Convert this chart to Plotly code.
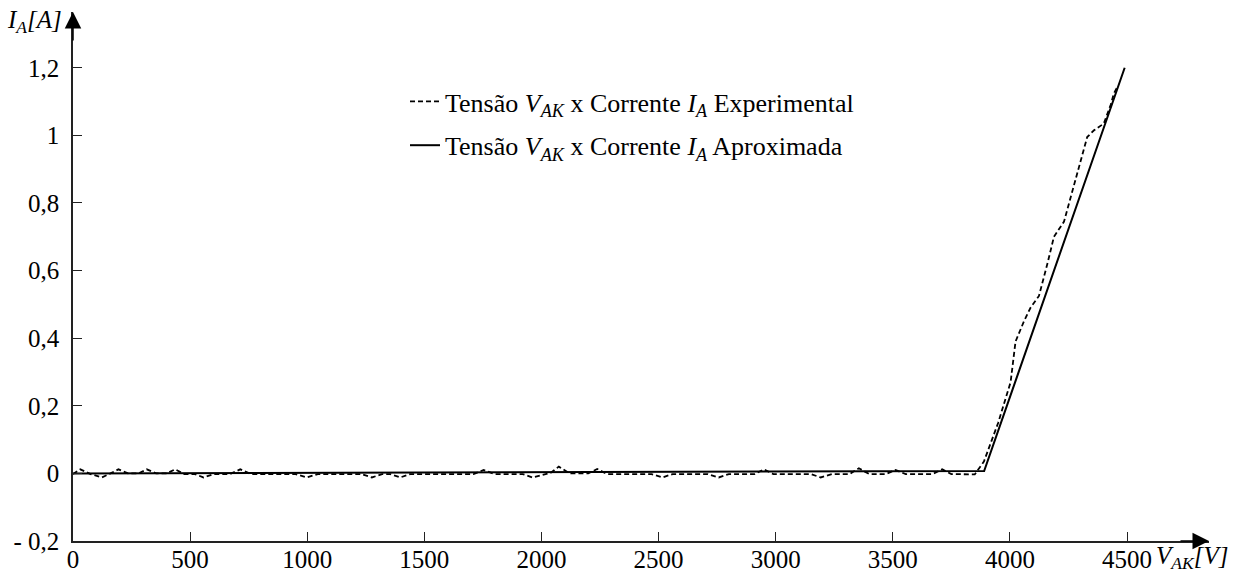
import plotly.graph_objects as go

# ---- data ----
exp_v = [0, 31, 75, 123, 160, 194, 235, 280, 315, 355, 400, 436, 475, 520, 557, 600, 670,
         714, 760, 950, 998, 1045, 1230, 1276, 1320, 1355, 1397, 1440, 1710, 1753, 1800,
         1920, 1961, 2010, 2040, 2074, 2120, 2200, 2238, 2280, 2470, 2516, 2560, 2710, 2757,
         2800, 2910, 2950, 2990, 3150, 3192, 3240, 3315, 3355, 3400, 3470, 3512, 3555, 3670,
         3711, 3750, 3850, 3889, 3950, 4003, 4024, 4060, 4088, 4124, 4160, 4188, 4231, 4280,
         4330, 4359, 4401, 4430, 4444, 4460]
exp_i = [-0.002, 0.012, -0.002, -0.012, 0.0, 0.012, 0.0, 0.0, 0.012, 0.0, 0.0, 0.012, -0.002,
         -0.002, -0.012, -0.002, -0.002, 0.012, -0.002, -0.002, -0.012, -0.002, -0.002, -0.012,
         -0.002, -0.002, -0.012, -0.002, -0.002, 0.01, -0.002, -0.002, -0.012, -0.002, 0.002,
         0.02, 0.0, 0.0, 0.013, -0.002, -0.002, -0.012, -0.002, -0.002, -0.012, -0.002, -0.002,
         0.012, -0.002, -0.002, -0.012, -0.002, -0.002, 0.015, -0.002, -0.002, 0.01, -0.002,
         -0.002, 0.012, -0.002, -0.003, 0.035, 0.15, 0.27, 0.39, 0.45, 0.49, 0.525, 0.62, 0.70,
         0.745, 0.87, 0.995, 1.015, 1.035, 1.09, 1.124, 1.145]

apx_v = [0, 3890, 4490]
apx_i = [0.0, 0.007, 1.2]

x_ticks = [0, 500, 1000, 1500, 2000, 2500, 3000, 3500, 4000, 4500]
x_ticktext = ["0", "500", "1000", "1500", "2000", "2500", "3000", "3500", "4000", "4500"]
y_ticks = [-0.2, 0, 0.2, 0.4, 0.6, 0.8, 1.0, 1.2]
y_ticktext = ["- 0,2", "0", "0,2", "0,4", "0,6", "0,8", "1", "1,2"]

FONT = "Liberation Serif"
AX = "#222222"
L, R, T, B = 73, 34, 12, 34
W, H = 1243, 575


def px_to_paper(px, py):
    return (px - L) / (W - L - R), (H - B - py) / (H - T - B)


fig = go.Figure()
fig.add_trace(go.Scatter(
    x=exp_v, y=exp_i, mode="lines",
    name="Tensão <i>V</i><sub><i>AK</i></sub> x Corrente <i>I</i><sub><i>A</i></sub> Experimental",
    line=dict(color="black", width=1.8, dash="5px,3px"), legendgroup="a"))
fig.add_trace(go.Scatter(
    x=apx_v, y=apx_i, mode="lines",
    name="Tensão <i>V</i><sub><i>AK</i></sub> x Corrente <i>I</i><sub><i>A</i></sub> Aproximada",
    line=dict(color="black", width=2), legendgroup="b"))

lx, ly = px_to_paper(405, 78)
fig.update_layout(
    width=W, height=H,
    margin=dict(l=L, r=R, t=T, b=B, autoexpand=False),
    paper_bgcolor="white", plot_bgcolor="white",
    font=dict(family=FONT, size=25, color="black"),
    showlegend=True,
    legend=dict(x=lx, y=ly, xanchor="left", yanchor="top",
                bgcolor="rgba(0,0,0,0)", borderwidth=0,
                font=dict(family=FONT, size=26, color="black"),
                tracegroupgap=7, itemclick=False, itemdoubleclick=False),
)
fig.update_xaxes(range=[0, 4850], showgrid=False, zeroline=False, automargin=False,
                 showline=True, linecolor=AX, linewidth=1.5,
                 ticks="inside", ticklen=9, tickwidth=1.2, tickcolor=AX,
                 tickvals=x_ticks, ticktext=x_ticktext, ticklabelstandoff=-5,
                 tickfont=dict(family=FONT, size=25, color="black"))
fig.update_yaxes(range=[-0.2, 1.365], showgrid=False, zeroline=False, automargin=False,
                 showline=True, linecolor=AX, linewidth=1.5,
                 ticks="inside", ticklen=9, tickwidth=1.2, tickcolor=AX,
                 tickvals=y_ticks, ticktext=y_ticktext, ticklabelstandoff=7,
                 tickfont=dict(family=FONT, size=25, color="black"))

# axis arrows
fig.add_annotation(x=0, y=1, xref="paper", yref="paper", ax=0, ay=30,
                   showarrow=True, arrowhead=2, arrowsize=2.2, arrowwidth=1.5,
                   arrowcolor="black", text="")
fig.add_annotation(x=1, y=0, xref="paper", yref="paper", ax=-30, ay=0,
                   showarrow=True, arrowhead=2, arrowsize=2.2, arrowwidth=1.5,
                   arrowcolor="black", text="")

# axis titles
tx, ty = px_to_paper(34, 22)
fig.add_annotation(x=tx, y=ty, xref="paper", yref="paper", showarrow=False,
                   xanchor="center", yanchor="middle",
                   text="<i>I</i><sub><i>A</i></sub><i>[A]</i>",
                   font=dict(family=FONT, size=25, color="black"))
tx, ty = px_to_paper(1192, 557)
fig.add_annotation(x=tx, y=ty, xref="paper", yref="paper", showarrow=False,
                   xanchor="center", yanchor="middle",
                   text="<i>V</i><sub><i>AK</i></sub><i>[V]</i>",
                   font=dict(family=FONT, size=25, color="black"))

fig.write_html("out.html")
